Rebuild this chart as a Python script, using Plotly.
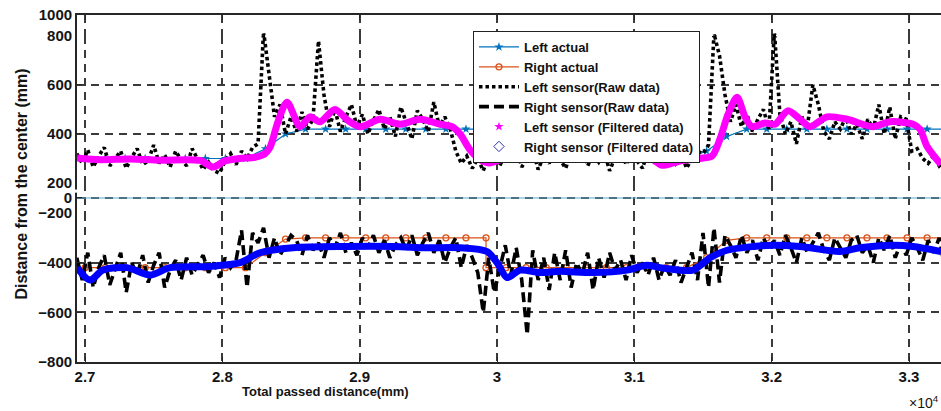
import numpy as np
import plotly.graph_objects as go

# ------------------------------------------------------------------
# Lateral distance from the corridor centre (mm) vs. travelled distance (mm)
# ------------------------------------------------------------------

# Reference (ground-truth) offsets, sampled every ~146 mm; the duplicated
# x value marks the step change of the corridor width.
ACTUAL_X = [26854, 27000, 27146, 27292, 27438, 27584, 27730, 27876, 28022, 28168,
            28314, 28460, 28606, 28752, 28898, 29044, 29190, 29336, 29482, 29628,
            29774, 29920, 29920, 30066, 30212, 30358, 30504, 30650, 30796, 30942,
            31088, 31234, 31380, 31526, 31672, 31818, 31964, 32110, 32256, 32402,
            32548, 32694, 32840, 32986, 33132, 33278]
LEFT_ACTUAL = [300, 300, 300, 300, 300, 300, 300, 300, 300, 300,
               340, 400, 420, 420, 420, 420, 420, 420, 420, 420,
               420, 420, 300, 300, 300, 300, 300, 300, 300, 300,
               300, 300, 300, 330, 390, 420, 420, 420, 420, 420,
               420, 420, 420, 420, 420, 420]
RIGHT_ACTUAL = [-420, -420, -420, -420, -420, -420, -420, -420, -420, -420,
                -360, -305, -300, -300, -300, -300, -300, -300, -300, -300,
                -300, -300, -420, -420, -420, -420, -420, -420, -420, -420,
                -420, -420, -420, -380, -310, -300, -300, -300, -300, -300,
                -300, -300, -300, -300, -300, -300]

# Corridor centre line
CENTER_X = [26900, 33300]
CENTER_Y = [0, 0]

# Raw ultrasonic readings, one sample every 40 mm starting at 26940 mm
RAW_START_MM = 26940
RAW_STEP_MM = 40
LEFT_RAW = [320, 280, 335, 265, 310, 345, 270, 300, 330, 260,
            305, 340, 275, 290, 355, 280, 315, 265, 330, 295,
            270, 340, 300, 255, 285, 250, 240, 290, 320, 275,
            330, 300, 345, 360, 820, 640, 470, 520, 400, 470,
            410, 490, 420, 460, 780, 560, 430, 500, 410, 470,
            520, 430, 480, 400, 455, 500, 420, 470, 390, 510,
            440, 380, 495, 460, 410, 530, 430, 470, 420, 330,
            280, 310, 260, 300, 250, 310, 345, 270, 320, 290,
            350, 265, 300, 335, 255, 310, 280, 340, 295, 260,
            325, 300, 350, 270, 315, 285, 330, 250, 305, 340,
            275, 320, 290, 260, 335, 300, 270, 345, 310, 280,
            325, 260, 300, 330, 320, 355, 810, 720, 560, 450,
            520, 430, 480, 410, 460, 500, 420, 820, 480, 400,
            450, 360, 470, 430, 600, 520, 410, 380, 450, 420,
            470, 400, 440, 380, 460, 420, 520, 400, 510, 380,
            470, 460, 330, 340, 300, 280, 310, 270, 290]
RIGHT_RAW = [-380, -470, -360, -500, -420, -370, -490, -430, -360, -520,
             -400, -450, -370, -480, -410, -360, -500, -430, -390, -470,
             -380, -450, -410, -370, -440, -400, -460, -380, -420, -390,
             -270, -500, -280, -320, -260, -380, -300, -370, -330, -290,
             -310, -370, -290, -350, -320, -380, -300, -340, -280, -360,
             -320, -370, -300, -340, -290, -360, -310, -380, -330, -300,
             -350, -290, -370, -320, -280, -360, -310, -400, -340, -300,
             -420, -330, -380, -440, -600, -380, -520, -420, -330, -450,
             -340, -470, -690, -350, -470, -380, -510, -360, -470, -350,
             -500, -400, -450, -360, -510, -380, -460, -360, -430, -390,
             -470, -370, -440, -400, -450, -380, -470, -410, -450, -390,
             -480, -420, -360, -470, -280, -500, -260, -480, -290, -330,
             -380, -290, -360, -310, -390, -300, -350, -310, -370, -290,
             -340, -400, -300, -360, -320, -280, -350, -390, -300, -340,
             -380, -310, -290, -360, -330, -400, -300, -350, -290, -380,
             -320, -370, -300, -340, -390, -310, -360, -300, -420]

# Filtered sensor estimates
LEFT_FILT_X = [26942, 27109, 27328, 27546, 27837, 27932, 28019, 28129, 28238, 28311,
               28347, 28405, 28471, 28566, 28638, 28711, 28820, 28915, 29003, 29148,
               29294, 29439, 29585, 29672, 29731, 29804, 29877, 29949, 30022, 30110,
               30241, 30459, 30750, 30932, 31078, 31151, 31202, 31333, 31478, 31566,
               31624, 31682, 31748, 31806, 31857, 31952, 32025, 32119, 32207, 32280,
               32403, 32549, 32738, 32862, 33029, 33080, 33131, 33233]
LEFT_FILT = [302, 295, 298, 293, 292, 265, 290, 300, 305, 320,
             345, 450, 530, 430, 470, 450, 500, 455, 430, 460,
             440, 460, 440, 430, 400, 335, 295, 282, 295, 320,
             312, 305, 305, 308, 315, 290, 272, 290, 300, 310,
             380, 480, 550, 470, 430, 445, 440, 495, 460, 430,
             470, 460, 430, 450, 440, 420, 350, 275]
RIGHT_FILT_X = [26942, 27036, 27131, 27306, 27473, 27619, 27910, 28129, 28274, 28515,
                28908, 29243, 29490, 29731, 29927, 30000, 30073, 30168, 30313, 30459,
                30699, 30947, 31092, 31187, 31427, 31551, 31675, 31864, 32010, 32207,
                32498, 32644, 32884, 33029, 33233]
RIGHT_FILT = [-420, -470, -430, -420, -450, -420, -415, -400, -360, -340,
              -335, -335, -340, -340, -355, -400, -460, -430, -440, -435,
              -440, -430, -410, -420, -430, -380, -350, -335, -330, -335,
              -355, -340, -330, -335, -355]

# Axis ticks
X_TICKS = [27000, 28000, 29000, 30000, 31000, 32000, 33000]
X_TICK_TEXT = ["2.7", "2.8", "2.9", "3", "3.1", "3.2", "3.3"]
Y_TICKS_LOW = [-800, -600, -400, -200]
Y_TICKS_MID = [0]
Y_TICKS_HIGH = [200, 400, 600, 800]
Y_TICKS_TOP = [1000]

# ------------------------------------------------------------------
FONT = "Liberation Sans, Arial, sans-serif"
AX = "#262626"
GRID = "#3a3a3a"
BLUE_ACT = "#0072BD"
ORANGE_ACT = "#D95319"

raw_x = RAW_START_MM + RAW_STEP_MM * np.arange(len(LEFT_RAW))

fig = go.Figure()

# centre line
fig.add_trace(go.Scatter(x=CENTER_X, y=CENTER_Y, mode="lines", yaxis="y2",
                         line=dict(color="#5AA9CF", width=1.2), showlegend=False,
                         hoverinfo="skip"))

fig.add_trace(go.Scatter(x=ACTUAL_X, y=LEFT_ACTUAL, yaxis="y3", name="Left actual",
                         mode="lines+markers",
                         line=dict(color=BLUE_ACT, width=1.2),
                         marker=dict(symbol="star", size=7, color=BLUE_ACT)))
fig.add_trace(go.Scatter(x=ACTUAL_X, y=RIGHT_ACTUAL, yaxis="y", name="Right actual",
                         mode="lines+markers",
                         line=dict(color=ORANGE_ACT, width=1.2),
                         marker=dict(symbol="circle-open", size=6, color=ORANGE_ACT,
                                     line=dict(width=1.3, color=ORANGE_ACT))))

fig.add_trace(go.Scatter(x=raw_x, y=LEFT_RAW, yaxis="y3", name="Left sensor(Raw data)",
                         mode="lines", line=dict(color="black", width=3.6, dash="3.5px,3px")))
# upper part of the same readings, shown on the compressed 800-1000 band
fig.add_trace(go.Scatter(x=raw_x, y=LEFT_RAW, xaxis="x2", yaxis="y4", showlegend=False,
                         mode="lines", line=dict(color="black", width=3.6, dash="3.5px,3px"),
                         hoverinfo="skip"))
fig.add_trace(go.Scatter(x=raw_x, y=RIGHT_RAW, yaxis="y", name="Right sensor(Raw data)",
                         mode="lines", line=dict(color="black", width=3.6, dash="10px,5px")))

fig.add_trace(go.Scatter(x=LEFT_FILT_X, y=LEFT_FILT, yaxis="y3", showlegend=False,
                         legendgroup="lf", mode="lines",
                         line=dict(color="#FF00FF", width=7, shape="spline", smoothing=0.8)))
fig.add_trace(go.Scatter(x=RIGHT_FILT_X, y=RIGHT_FILT, yaxis="y", showlegend=False,
                         legendgroup="rf", mode="lines",
                         line=dict(color="#0000FF", width=7, shape="spline", smoothing=0.8)))

# legend symbols for the filtered estimates (plotted as dense markers)
fig.add_trace(go.Scatter(x=[None], y=[None], yaxis="y3", name="Left sensor (Filtered data)",
                         legendgroup="lf", mode="markers",
                         marker=dict(symbol="star", size=7, color="#FF00FF")))
fig.add_trace(go.Scatter(x=[None], y=[None], yaxis="y", name="Right sensor (Filtered data)",
                         legendgroup="rf", mode="markers",
                         marker=dict(symbol="diamond-open", size=8, color="#3030B0",
                                     line=dict(width=1, color="#3030B0"))))

axis_style = dict(showline=True, linecolor=AX, linewidth=1.8,
                  ticks="inside", ticklen=5, tickwidth=1.4, tickcolor=AX,
                  showgrid=True, gridcolor=GRID, gridwidth=1.5, griddash="8px,6px",
                  zeroline=False,
                  tickfont=dict(family=FONT, size=15, color="#141414", weight="bold"))

# stacked y-bands (fractions of the plot height)
D1, D2, D3 = 0.4294, 0.5159, 0.9395

fig.update_layout(
    width=941, height=411,
    margin=dict(l=77, r=0, t=15, b=49),
    paper_bgcolor="white", plot_bgcolor="white",
    font=dict(family=FONT, color="#141414"),
    xaxis=dict(range=[26941.7, 33233], tickvals=X_TICKS, ticktext=X_TICK_TEXT,
               anchor="y", domain=[0, 1], **axis_style),
    xaxis2=dict(matches="x", anchor="y4", side="top", domain=[0, 1],
                showticklabels=False, tickvals=X_TICKS, **axis_style),
    yaxis=dict(domain=[0, D1], range=[-800, -200], tickvals=Y_TICKS_LOW, anchor="x",
               **axis_style),
    yaxis2=dict(domain=[D1, D2], range=[-200, 200], tickvals=Y_TICKS_MID, anchor="x",
                **axis_style),
    yaxis3=dict(domain=[D2, D3], range=[200, 800], tickvals=Y_TICKS_HIGH, anchor="x",
                **axis_style),
    yaxis4=dict(domain=[D3, 1], range=[800, 1000], tickvals=Y_TICKS_TOP, anchor="x2",
                **axis_style),
    legend=dict(x=0.4583, y=0.9539, xanchor="left", yanchor="top",
                bgcolor="white", bordercolor="#222", borderwidth=1,
                font=dict(family=FONT, size=13, color="#111", weight="bold"),
                itemwidth=40, tracegroupgap=0),
    annotations=[
        dict(text="Distance from the center (mm)", textangle=-90,
             x=-0.0637, y=0.514, xref="paper", yref="paper", showarrow=False,
             xanchor="center", yanchor="middle",
             font=dict(family=FONT, size=16, weight="bold", color="#141414")),
        dict(text="Total passed distance(mm)",
             x=0.288, y=-0.085, xref="paper", yref="paper", showarrow=False,
             xanchor="center", yanchor="middle",
             font=dict(family=FONT, size=13, weight="bold", color="#141414")),
        dict(text="\u00d710<sup>4</sup>", x=1.0, y=-0.115, xref="paper", yref="paper",
             xanchor="right", yanchor="middle", showarrow=False,
             font=dict(family=FONT, size=14, color="#141414")),
    ],
    shapes=[
        # axis break mark on the compressed band
        dict(type="rect", xref="paper", yref="paper", x0=-0.006, x1=0.006,
             y0=0.488, y1=0.497, fillcolor="white", line=dict(width=0), layer="above"),
    ],
)

fig.write_html("out.html")
